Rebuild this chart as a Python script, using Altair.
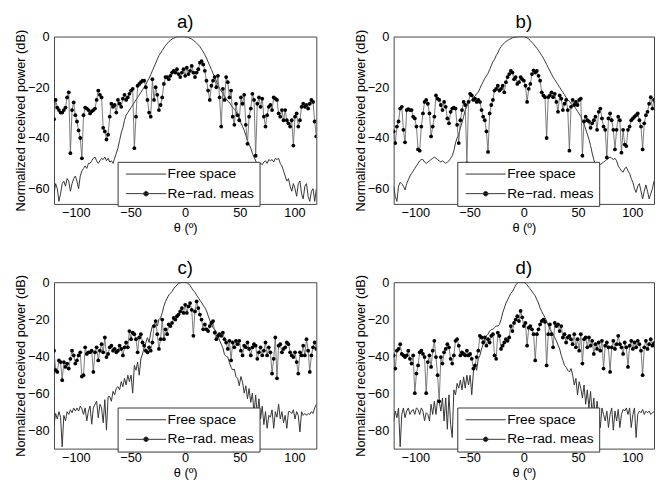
import altair as alt
import pandas as pd

# Angle grid of the measurements (degrees)
THETA = [round(-120 + 1.5 * k, 1) for k in range(161)]

A_FREE = [-62, -58, -60, -65, -62, -58, -57, -59, -56, -57,
          -61, -58, -56, -55, -57, -60, -55, -53, -52, -51,
          -52, -50, -50, -49, -48, -47.5, -49, -50, -49, -48,
          -48.5, -47.5, -49, -48, -49.5, -49, -50, -48, -46, -44,
          -41, -38, -36, -33, -31, -30, -29, -28, -27, -26,
          -25, -24, -23, -22, -21, -20, -19, -17.5, -16.5, -15,
          -13.5, -12, -10.5, -9, -7.5, -6.5, -5.5, -4.5, -3.5, -2.8,
          -2, -1.5, -1, -0.7, -0.3, -0.1, 0, 0, 0, 0,
          -0.1, -0.2, -0.4, -0.7, -1, -1.5, -2, -2.6, -3.3, -4,
          -5, -6, -7.2, -8.5, -10, -11.5, -13, -14.5, -16, -17.5,
          -19, -20.5, -21.5, -22.5, -23.5, -24.5, -25.5, -26, -27, -28,
          -28.5, -29.5, -31, -32.5, -34, -35.5, -37, -39, -41, -42.5,
          -44, -46, -47.5, -49, -50.5, -51, -50, -50.5, -49.5, -49,
          -50, -48.5, -49, -48.5, -49.5, -48, -48.5, -48, -50, -51,
          -53, -55, -57, -56, -59, -61, -58, -60, -63, -58,
          -57, -62, -64, -59, -58, -63, -65, -61, -60, -65,
          -60]
A_MEAS = [-32.6, -25, -28, -29, -30, -30, -29, -28, -24, -22,
          -46, -29, -26, -31, -33.5, -37, -40, -48, -31, -28,
          -28.4, -29, -30.3, -29.5, -29, -28.4, -25, -21.3, -23, -24,
          -36, -37.4, -40.6, -38.7, -31.6, -26.5, -27.7, -27, -30, -25,
          -26.5, -27.7, -24.5, -23, -25, -24, -22.6, -21.3, -20.6, -44,
          -31.6, -19.4, -18.7, -18, -17.4, -17.4, -20, -25, -30, -31.6,
          -16.8, -25, -20, -23, -29, -27, -24, -18.7, -16, -16,
          -16.8, -15.5, -14.2, -13.5, -14.2, -12.9, -14.8, -16, -14.2, -12.9,
          -15.5, -12.3, -14.8, -13.5, -11.6, -14.2, -16, -14.2, -12.9, -10.3,
          -9.7, -11, -13.5, -17.4, -21.3, -25, -19.4, -17.4, -16, -20,
          -15.5, -24, -35.5, -20.6, -25, -16, -18, -24, -21.3, -31.6,
          -34.8, -26.5, -31, -33, -24, -26.5, -23, -34.8, -42.3, -31.6,
          -28.4, -22.6, -25, -47, -26.5, -24, -27.7, -24.5, -31.6, -35.5,
          -31, -27.7, -27, -29, -24, -24.5, -25, -30.3, -31.6, -29,
          -33, -29, -33, -34.2, -35.5, -33, -43, -31.6, -30.3, -35.5,
          -33, -27.7, -26.5, -27.7, -27, -28.4, -26.5, -25, -25.8, -33.5,
          -39.4]

B_FREE = [-59, -63, -65, -59, -57.5, -58, -59, -60.5, -58, -56.5,
          -55, -54, -53, -52, -51, -50, -49, -48.5, -48.5, -49.5,
          -50, -49.5, -49, -48.5, -48, -47.5, -48, -48.5, -49, -49.5,
          -49, -49.5, -50, -49.5, -49, -48, -47, -45, -42, -40,
          -38.5, -36, -34, -31.5, -29, -27.5, -26, -25.5, -25, -24,
          -23.5, -22.5, -22, -20.5, -19, -17.8, -16.5, -15.5, -14.5, -13,
          -11.5, -10, -9, -7.5, -6.5, -5, -4, -3.2, -2.5, -2,
          -1.5, -1.2, -0.8, -0.5, -0.3, -0.2, -0.1, 0, 0, 0,
          0, -0.2, -0.5, -1, -1.6, -2.3, -3, -3.8, -4.6, -5.5,
          -6.5, -7.5, -8.5, -9.7, -11, -12.3, -13.5, -14.8, -16, -17,
          -18, -19, -20, -21, -22, -23, -24, -25, -25.5, -26.5,
          -27, -27.5, -28.5, -29.5, -30.5, -31.5, -33, -34.5, -36.5, -38.5,
          -40.5, -43, -46, -48.5, -50.5, -51, -51, -50.5, -50, -49.5,
          -49, -48.5, -48, -47.5, -48, -48.5, -48, -49, -51, -52,
          -53, -53.5, -52, -51.5, -53, -54, -56, -57.5, -60, -61.5,
          -59, -58, -61, -64, -61, -58.5, -61, -64, -62, -60,
          -57]
B_MEAS = [-37.4, -42, -35.5, -33.5, -28.4, -27.7, -36.8, -41.7, -29, -28.6,
          -29, -29, -31.6, -32.3, -35.5, -44.5, -45, -35.5, -30.3, -25.8,
          -25, -26.5, -30.3, -39.4, -35.5, -31.6, -23.2, -24.5, -25, -27,
          -29, -25.8, -27.7, -32.3, -34.2, -29.7, -28.4, -28, -28.4, -34.8,
          -42, -33, -29, -25.8, -27, -50, -25.8, -22.6, -23.2, -25,
          -24.5, -25.8, -25, -25.8, -29, -31.6, -33, -37.4, -45.5, -30.3,
          -27, -25, -21.3, -20.6, -19.4, -21.3, -20.6, -19.4, -22, -18,
          -16, -14.8, -13.5, -14.2, -16.8, -16, -18.7, -18, -16, -16.8,
          -17.4, -19.4, -25.8, -20.6, -18.7, -14.8, -13.3, -14.2, -13.5, -15.5,
          -17.4, -22, -23.2, -23.9, -40, -23.9, -23.2, -22, -23.9, -22.6,
          -25.8, -29.7, -23.2, -24.5, -29, -26.5, -25, -29, -45, -27.7,
          -25, -27, -25.8, -27, -25, -24.5, -47, -33.5, -31.6, -33,
          -33.5, -36, -34.2, -33, -31.6, -36.8, -29.7, -28.4, -32.3, -35.5,
          -36.8, -47.7, -32.3, -30.3, -33, -36.8, -44.5, -36.8, -31.6, -33,
          -45.8, -36.8, -42.6, -43.2, -36.8, -35.5, -33, -32.3, -31.6, -31,
          -30.3, -33, -35.5, -44.5, -34.2, -31, -29.7, -26.5, -23.9, -28.4,
          -25]

C_FREE = [-77, -71, -74, -70, -73, -89, -72, -75, -70, -71.5,
          -69, -70.6, -68, -69.7, -68, -69.7, -67, -68.5, -71.5, -68,
          -75, -69.7, -67, -76.8, -68, -66, -64.4, -73.3, -66, -68,
          -76, -63.5, -80, -62, -61.8, -64.4, -59, -60.9, -57.3, -56.5,
          -58.2, -53.8, -56.5, -52, -55.6, -50.3, -53.8, -50.3, -60, -45,
          -47.6, -43.2, -50.3, -41.4, -38.8, -35.2, -32.6, -30, -32.6, -27.3,
          -23.7, -22.8, -22, -23.7, -20.2, -19.3, -16.6, -13.1, -10.4, -8.7,
          -6.9, -6, -5, -3.5, -2.5, -1.5, -0.7, -0.3, 0, 0,
          -0.1, -0.2, -0.8, -1.8, -3.2, -4.5, -5.5, -7, -8.3, -9.8,
          -11, -12.4, -13.8, -15.5, -18, -20.5, -22.5, -24.5, -25.5, -26.8,
          -29, -31.5, -33.5, -35.5, -39.2, -40, -40.5, -43.5, -46, -47.5,
          -47, -51, -52, -56, -51, -54, -60, -56, -63, -57.5,
          -65, -60, -71, -61, -72, -63, -74, -67, -77, -70,
          -79, -72, -73, -69, -79, -70, -73, -66, -74, -70,
          -76, -72, -79, -70, -70, -71, -69, -74, -70, -72,
          -81, -70, -72, -71, -72, -71, -71.5, -70, -71, -68,
          -66]
C_MEAS = [-37, -47.6, -48.5, -42.3, -43.2, -53, -43.2, -45.8, -44, -46.7,
          -41.4, -37, -39.6, -44, -42.3, -39.6, -37.9, -51, -50.3, -35.2,
          -38.8, -37.9, -37.9, -37, -48.5, -37.9, -35.2, -42.3, -37, -33.5,
          -37.9, -29.9, -40.5, -38.8, -35.2, -34.3, -37, -36.1, -37.9, -37,
          -34.3, -36.1, -39.6, -35.2, -32.6, -35.2, -26.4, -30.8, -27.3, -28.1,
          -30.8, -37.9, -29.9, -28.1, -32.6, -34.3, -37, -37.9, -35.2, -37,
          -32.6, -23.7, -21, -28.1, -36.1, -30.8, -20.2, -30.8, -25.5, -28.1,
          -22.8, -23.7, -22, -19.3, -20.2, -18.4, -17.5, -15.8, -14, -16.6,
          -12.2, -16.6, -13.1, -11.3, -14.9, -29, -15.8, -10.4, -14, -17.5,
          -20.2, -25.5, -22.8, -25.5, -26.4, -23.7, -22, -21, -27.3, -30.8,
          -29, -28.1, -29, -27.3, -30.8, -32.6, -36.1, -31.7, -42.3, -32.6,
          -35.2, -31.7, -33.5, -31.7, -37, -39.6, -34.3, -35.2, -32.6, -36.1,
          -39.6, -35.2, -33.5, -34.3, -41.4, -37.9, -35.2, -39.6, -37, -32.6,
          -39.6, -35.2, -37.9, -49.4, -41.4, -29.9, -52, -34.3, -33.5, -37.9,
          -36.1, -35.2, -32.6, -33.5, -37.9, -39.6, -40.5, -37.9, -43.2, -49.4,
          -37.9, -39.6, -34.3, -39.6, -30.8, -37, -48.5, -39.6, -35.2, -32.6,
          -36.1]

D_FREE = [-75, -69.7, -73.3, -68, -89, -71.5, -68, -73.3, -69.7, -68,
          -71.5, -69.7, -68.8, -71.5, -68, -68.8, -71.5, -68, -69.7, -75,
          -70.6, -71.5, -75, -66, -71.5, -64.4, -71.5, -63.5, -64.4, -69.7,
          -62.6, -75, -62.6, -79.5, -60.9, -76.8, -84, -58.2, -60.9, -54.7,
          -57.3, -52.9, -58.2, -51.2, -57.3, -50.3, -55.6, -50.3, -60.9, -48.5,
          -45, -47.6, -41.4, -39.6, -36.1, -33.5, -30.8, -29, -28.1, -26.4,
          -25.5, -25.5, -24.6, -23.7, -23.7, -22.8, -20.2, -16.6, -14, -11.3,
          -9.6, -7.8, -6, -5.1, -3.4, -1.6, -0.5, 0, 0, -0.3,
          0, -0.5, -1.4, -2.8, -3.6, -5, -6.2, -7.3, -9.5, -11.2,
          -14, -15.8, -17.5, -19.2, -21, -23.2, -25.5, -26.8, -28.1, -29.9,
          -31.7, -34, -36.1, -39.6, -42.3, -45, -46, -47.6, -48.5, -46.7,
          -50.3, -55.6, -52, -60.9, -53.8, -57.3, -62.6, -55.6, -66, -58.2,
          -68, -59, -71.5, -62.6, -75, -64.4, -71.5, -78.6, -68, -71.5,
          -75, -69.7, -78.6, -71.5, -68, -80, -69.7, -75, -68.8, -78.6,
          -71.5, -68.8, -69.7, -68, -71.5, -68, -78.6, -71.5, -68, -84,
          -71.5, -69.7, -70.6, -68.8, -71.5, -69.7, -70.6, -69.7, -71.5, -70.6,
          -70]
D_MEAS = [-39.6, -46.7, -37, -36.1, -33.5, -38.8, -39.6, -40.5, -39.6, -37,
          -41.4, -44, -39.6, -60, -49.4, -45, -37.9, -37, -38.8, -40.5,
          -60, -43.2, -39.6, -45.8, -37, -31.7, -40.5, -50.3, -64.4, -40.5,
          -44, -37.9, -36.1, -33.5, -35.2, -41.4, -44, -39.6, -31.7, -30.8,
          -34.3, -39.6, -37.9, -38.8, -39.6, -37, -39.6, -38.8, -41.4, -46.7,
          -45, -40.5, -37, -29, -29.9, -32.6, -29.9, -34.3, -30.8, -32.6,
          -29, -28.1, -39.6, -41.4, -27.3, -29, -36.1, -34.3, -32.6, -30.8,
          -31.7, -29.9, -23.7, -26.4, -22, -20.2, -18.4, -21, -15.5, -19,
          -23.7, -22, -34.3, -24.6, -23.7, -25.5, -28.1, -42.3, -28.1, -25.5,
          -22.8, -21, -20.2, -21.5, -45, -28.1, -22.8, -28.1, -35.2, -22,
          -23.7, -22.8, -26.4, -23.7, -29.9, -28.1, -32.6, -29.9, -29, -30.8,
          -33.5, -28.1, -35.2, -30.8, -37, -28.1, -44, -30.8, -29.9, -35.2,
          -29.9, -34.3, -31.7, -38.8, -33.5, -36.1, -32.6, -37, -31.7, -46.7,
          -34.3, -32.6, -35.2, -48.5, -35.2, -31.7, -36.1, -33.5, -29, -33.5,
          -35.2, -38.8, -32.6, -35.2, -45.8, -34.3, -31.7, -36.1, -32.6, -35.2,
          -31.7, -33.5, -37, -50.3, -35.2, -31.7, -36.1, -33.5, -30.8, -34.3,
          -33]

X_TICKS = [-100, -50, 0, 50, 100]
Y_TICKS_TOP = [0, -20, -40, -60]
Y_TICKS_BOTTOM = [0, -20, -40, -60, -80]
SERIES = ["Free space", "Re\u2212rad. meas"]

FONT = "Liberation Sans"
LINE_PATH = "M-0.571,0L5.286,0"
DOT_PATH = ("M-0.571,0L5.286,0M2.03,0A0.33,0.33,0,1,1,2.69,0"
            "A0.33,0.33,0,1,1,2.03,0Z")


def panel(label, free, meas, ymin, yticks, w, h):
    fs = pd.DataFrame({"theta": THETA, "db": free, "series": SERIES[0]})
    ms = pd.DataFrame({"theta": THETA, "db": meas, "series": SERIES[1]})
    x = alt.X("theta:Q",
              scale=alt.Scale(domain=[-120, 120], nice=False, zero=False),
              axis=alt.Axis(values=X_TICKS, title="\u03b8 (\u00ba)",
                            labelPadding=3, titlePadding=2))
    y = alt.Y("db:Q",
              scale=alt.Scale(domain=[ymin, 0], nice=False, zero=False),
              axis=alt.Axis(values=yticks,
                            title="Normalized received power (dB)",
                            labelPadding=5, titlePadding=0))
    l1 = alt.Chart(fs).mark_line(color="#333333", strokeWidth=1,
                                 clip=True).encode(x=x, y=y)
    l2 = alt.Chart(ms).mark_line(color="#6a6a6a", strokeWidth=0.9,
                                 clip=True).encode(x=x, y=y)
    pts = alt.Chart(ms).mark_circle(color="black", size=15, opacity=1,
                                    clip=True).encode(x=x, y=y)
    leg = alt.Chart(fs).transform_filter("false").mark_point(
        filled=False, color="#333333", fill="black",
        strokeWidth=1, opacity=1).encode(
        shape=alt.Shape(
            "series:N",
            scale=alt.Scale(domain=SERIES, range=[LINE_PATH, DOT_PATH]),
            legend=alt.Legend(
                orient="none", legendX=65, legendY=128, title=None,
                labelFont=FONT, labelFontSize=14, labelColor="black",
                symbolSize=196, symbolStrokeWidth=1,
                symbolOpacity=1, labelOffset=31, rowPadding=5, padding=5,
                strokeColor="#333333", fillColor="white", labelLimit=0)))
    return alt.layer(l1, l2, pts, leg).properties(
        width=w, height=h,
        title=alt.TitleParams(label, fontSize=19, font=FONT,
                              fontWeight="normal", anchor="middle",
                              frame="group", offset=-3, color="black"))


pa = panel("a)", A_FREE, A_MEAS, -66, Y_TICKS_TOP, 268, 171)
pb = panel("b)", B_FREE, B_MEAS, -66, Y_TICKS_TOP, 266, 171)
pc = panel("c)", C_FREE, C_MEAS, -90, Y_TICKS_BOTTOM, 268, 170)
pd_ = panel("d)", D_FREE, D_MEAS, -90, Y_TICKS_BOTTOM, 266, 170)

row1 = alt.hconcat(pa, pb, spacing=37).resolve_scale(
    shape="independent").resolve_legend(shape="independent")
row2 = alt.hconcat(pc, pd_, spacing=37).resolve_scale(
    shape="independent").resolve_legend(shape="independent")

chart = alt.vconcat(row1, row2, spacing=23).resolve_scale(
    shape="independent").resolve_legend(shape="independent").properties(
    padding={"left": 6, "top": 0, "right": 0, "bottom": 0}
).configure_view(stroke="#444444", strokeWidth=1).configure_axis(
    labelFont=FONT, labelFontSize=13, labelColor="black",
    titleFont=FONT, titleFontSize=13, titleFontWeight="normal",
    titleColor="black", ticks=False, domain=False, grid=False)

chart.save("out.html", embed_options={"renderer": "svg", "actions": False})
